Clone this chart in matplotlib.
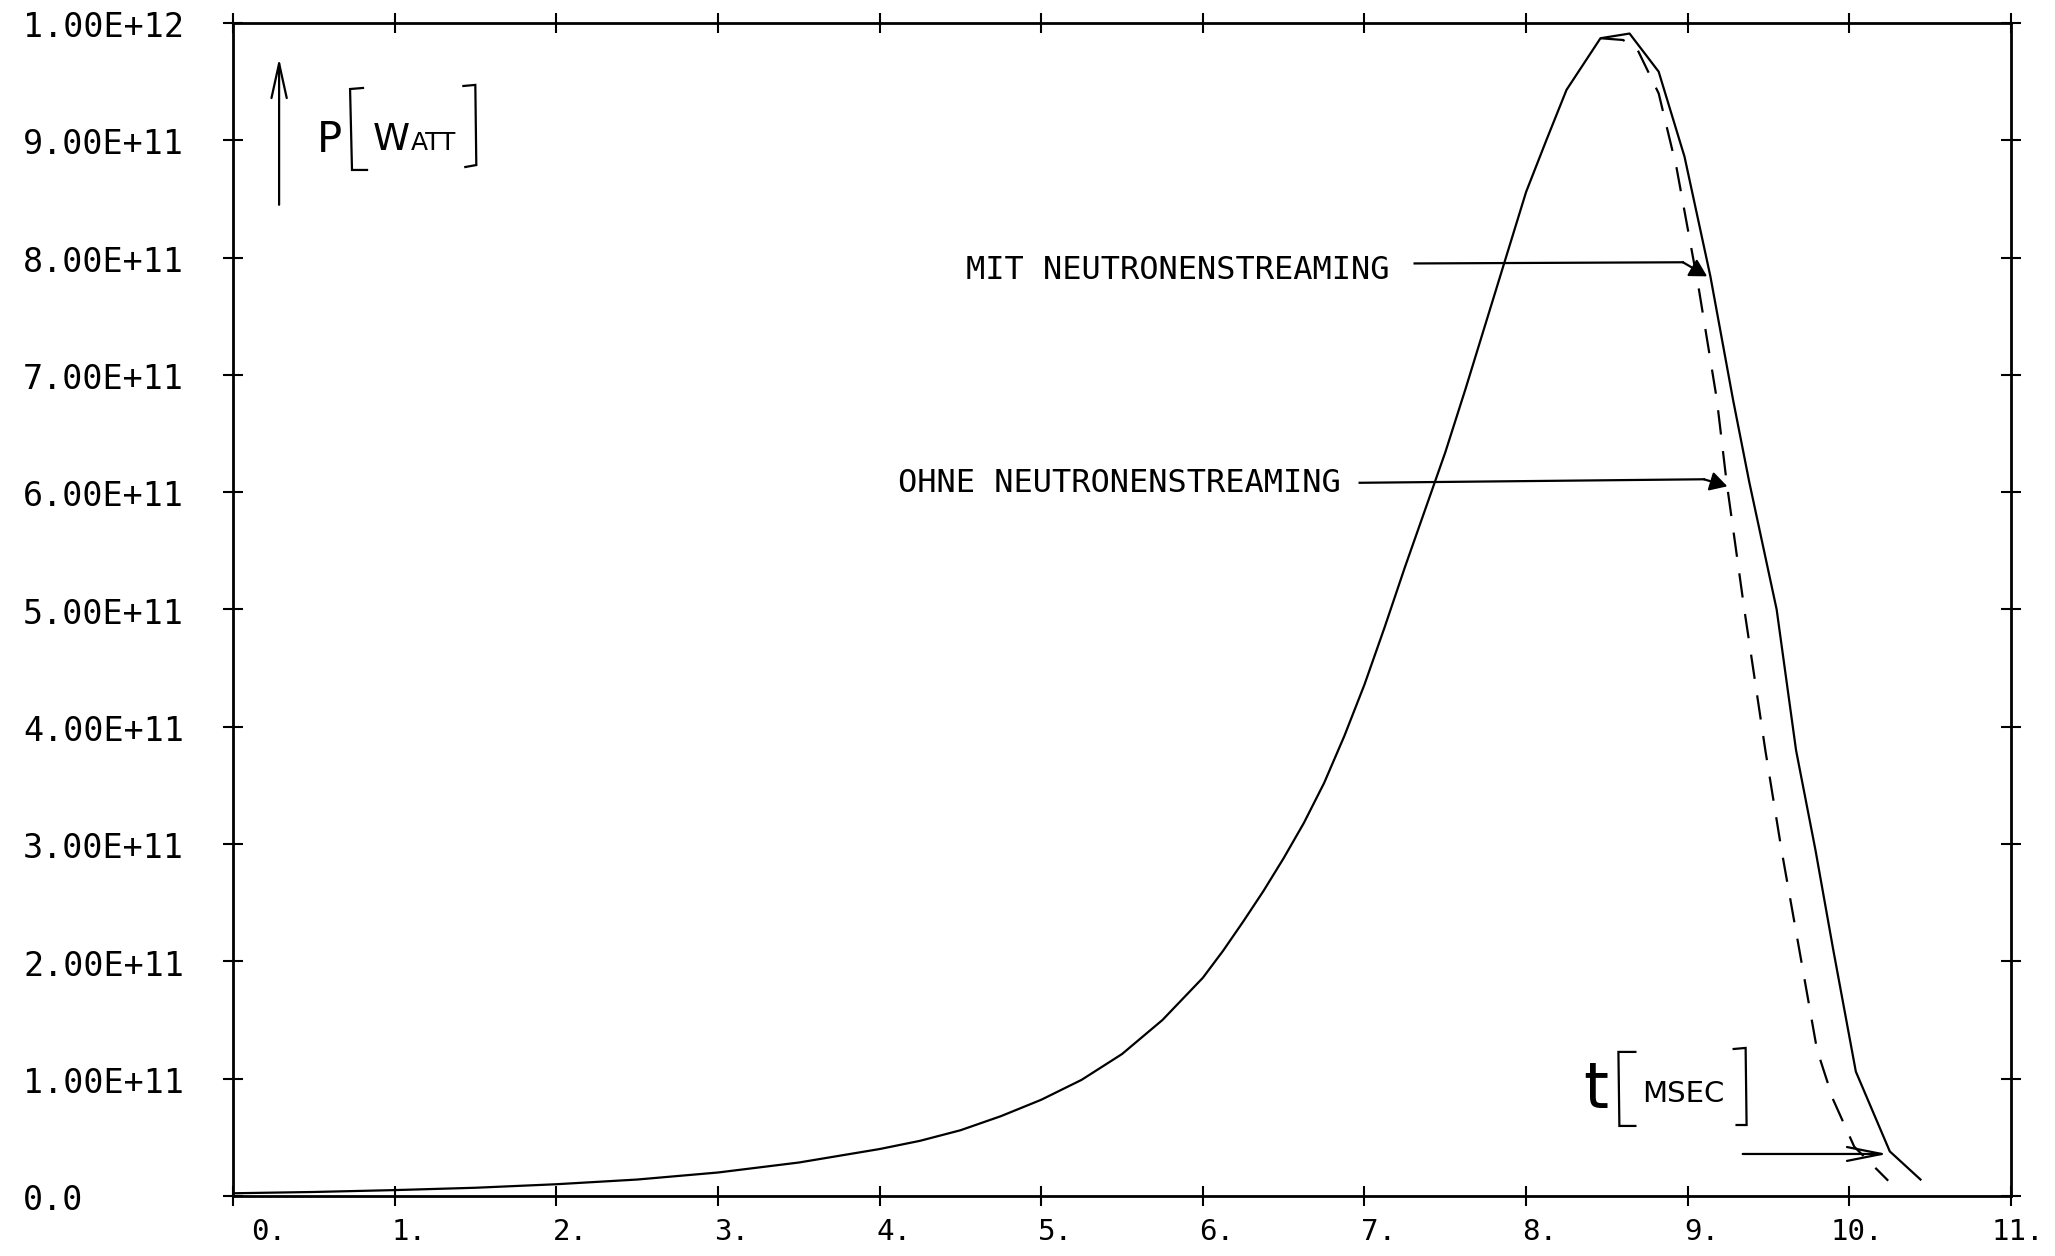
import matplotlib
matplotlib.use("Agg")
import matplotlib.pyplot as plt
from matplotlib.ticker import MultipleLocator

# power excursion P(t), t in msec, P in watt
# both runs share the rise up to the maximum
t_rise = [0.0, 0.5, 1.0, 1.5, 2.0, 2.5, 3.0, 3.5, 4.0, 4.25, 4.5, 4.75,
          5.0, 5.25, 5.5, 5.75, 6.0, 6.125, 6.25, 6.375, 6.5, 6.625, 6.75,
          6.875, 7.0, 7.125, 7.25, 7.375, 7.5, 7.625, 7.75, 7.875, 8.0,
          8.125, 8.25, 8.46]
p_rise = [2.3e9, 3.4e9, 5.0e9, 7.0e9, 1.0e10, 1.4e10, 2.0e10, 2.85e10,
          4.0e10, 4.7e10, 5.6e10, 6.8e10, 8.2e10, 9.9e10, 1.21e11, 1.50e11,
          1.86e11, 2.09e11, 2.34e11, 2.60e11, 2.88e11, 3.18e11, 3.52e11,
          3.92e11, 4.36e11, 4.85e11, 5.36e11, 5.85e11, 6.34e11, 6.88e11,
          7.44e11, 8.00e11, 8.56e11, 9.00e11, 9.43e11, 9.87e11]

# mit neutronenstreaming (solid)
t_mit = [8.64, 8.82, 8.98, 9.14, 9.28, 9.38, 9.55, 9.67, 9.79, 9.90,
         10.04, 10.25, 10.44]
p_mit = [9.91e11, 9.585e11, 8.86e11, 7.84e11, 6.79e11, 6.09e11, 5.0e11,
         3.80e11, 2.95e11, 2.10e11, 1.06e11, 3.8e10, 1.4e10]

# ohne neutronenstreaming (dashed)
t_ohne = [8.60, 8.69, 8.82, 8.93, 9.07, 9.18, 9.24, 9.35, 9.48, 9.58,
          9.69, 9.80, 9.90, 10.03, 10.24]
p_ohne = [9.855e11, 9.77e11, 9.40e11, 8.77e11, 7.72e11, 6.79e11, 6.09e11,
          5.0e11, 3.80e11, 2.95e11, 2.10e11, 1.245e11, 8.2e10, 4.2e10, 1.3e10]

x_ticks = list(range(0, 12))
x_labels = ["%d." % v for v in x_ticks]
y_ticks = [i * 1e11 for i in range(0, 11)]
y_labels = ["0.0"] + ["%d.00E+11" % i for i in range(1, 10)] + ["1.00E+12"]

MONO = ["DejaVu Sans Mono"]
HAND = ["DejaVu Sans"]


def bracket(ax, pts):
    xs = [p[0] for p in pts]
    ys = [p[1] * 1e12 for p in pts]
    ax.plot(xs, ys, color="black", lw=1.6, clip_on=False,
            solid_joinstyle="miter")


def main():
    fig = plt.figure(figsize=(20.55, 12.56), dpi=100)
    ax = fig.add_axes([0.1134, 0.0478, 0.8652, 0.9339])

    ax.plot(t_rise + t_mit, p_rise + p_mit, color="black", lw=1.6)
    ax.plot(t_rise[-1:] + t_ohne, p_rise[-1:] + p_ohne, color="black",
            lw=1.6, dashes=(11, 7.5))

    ax.set_xlim(0, 11)
    ax.set_ylim(0, 1e12)
    for s in ax.spines.values():
        s.set_linewidth(2.0)
    ax.xaxis.set_major_locator(MultipleLocator(1))
    ax.yaxis.set_major_locator(MultipleLocator(1e11))
    ax.tick_params(direction="inout", length=14, width=1.5,
                   top=True, right=True, labelbottom=False, labelleft=False)

    # tick labels, written the way the plotter put them
    xtr = ax.get_xaxis_transform()
    for v, lab in zip(x_ticks, x_labels):
        if v == 0:
            off = 36
        elif v < 10:
            off = 14
        else:
            off = 7
        ax.text(v + off / 161.6, -0.0307, lab, transform=xtr,
                ha="center", va="center", fontsize=21, family=MONO)
    ytr = ax.get_yaxis_transform()
    for v, lab in zip(y_ticks, y_labels):
        ax.text(-0.1181, v - 0.004e12, lab, transform=ytr, ha="left",
                va="center", fontsize=24, family=MONO)

    # axis captions
    ax.annotate("", xy=(0.285, 9.70e11), xytext=(0.285, 8.45e11),
                arrowprops=dict(arrowstyle="->,head_length=2.5,head_width=0.55",
                                mutation_scale=10, lw=1.6, color="black",
                                shrinkA=0, shrinkB=0))
    ax.text(0.52, 8.90e11, "P", fontsize=30, family=HAND, va="baseline")
    ax.text(0.866, 8.917e11, "W", fontsize=27, family=HAND, va="baseline")
    ax.text(1.10, 8.917e11, "ATT", fontsize=18, family=HAND, va="baseline")
    bracket(ax, [(0.804, 0.9446), (0.724, 0.9437), (0.736, 0.8747),
                 (0.829, 0.8747)])
    bracket(ax, [(1.425, 0.9463), (1.499, 0.9472), (1.505, 0.8789),
                 (1.437, 0.8772)])

    ax.text(8.354, 0.075e12, "t", fontsize=46, family=HAND, va="baseline")
    ax.text(8.715, 0.080e12, "MSEC", fontsize=21, family=HAND,
            va="baseline")
    bracket(ax, [(8.676, 0.1228), (8.571, 0.1228), (8.577, 0.0597),
                 (8.676, 0.0597)])
    bracket(ax, [(9.284, 0.1253), (9.358, 0.1262), (9.364, 0.0605),
                 (9.302, 0.0605)])
    ax.annotate("", xy=(10.235, 3.58e10), xytext=(9.34, 3.58e10),
                arrowprops=dict(arrowstyle="->,head_length=2.5,head_width=0.5",
                                mutation_scale=10, lw=1.6, color="black",
                                shrinkA=0, shrinkB=0))

    # curve labels with leader lines
    ax.text(4.536, 7.894e11, "MIT NEUTRONENSTREAMING", fontsize=23,
            family=MONO, va="center")
    ax.plot([7.31, 8.97], [7.95e11, 7.96e11], color="black", lw=1.6)
    ax.annotate("", xy=(9.12, 7.84e11), xytext=(8.97, 7.96e11),
                arrowprops=dict(arrowstyle="-|>,head_length=0.8,head_width=0.45",
                                mutation_scale=13, lw=1.6, color="black",
                                shrinkA=0, shrinkB=0))

    ax.text(4.115, 6.07e11, "OHNE NEUTRONENSTREAMING", fontsize=23,
            family=MONO, va="center")
    ax.plot([6.97, 9.10], [6.08e11, 6.11e11], color="black", lw=1.6)
    ax.annotate("", xy=(9.245, 6.05e11), xytext=(9.10, 6.11e11),
                arrowprops=dict(arrowstyle="-|>,head_length=0.8,head_width=0.45",
                                mutation_scale=13, lw=1.6, color="black",
                                shrinkA=0, shrinkB=0))

    fig.savefig("out.png", dpi=100)


if __name__ == "__main__": main()
